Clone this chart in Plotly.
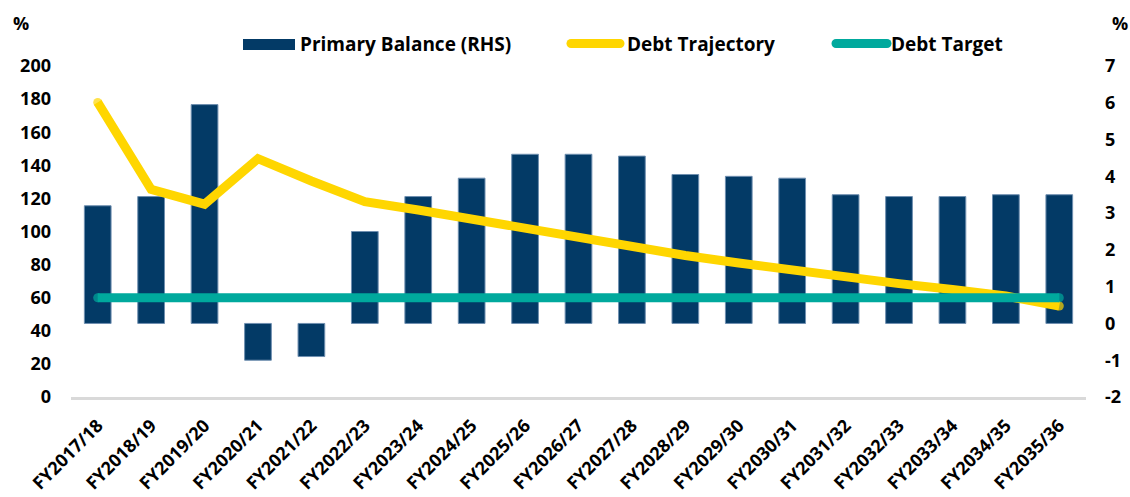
import plotly.graph_objects as go

# Fiscal years shown on the category axis
fiscal_years = [
    "FY2017/18", "FY2018/19", "FY2019/20", "FY2020/21", "FY2021/22",
    "FY2022/23", "FY2023/24", "FY2024/25", "FY2025/26", "FY2026/27",
    "FY2027/28", "FY2028/29", "FY2029/30", "FY2030/31", "FY2031/32",
    "FY2032/33", "FY2033/34", "FY2034/35", "FY2035/36",
]

# Primary balance, % (right-hand scale)
primary_balance = [
    3.2, 3.45, 5.95, -1.0, -0.9,
    2.5, 3.45, 3.95, 4.6, 4.6,
    4.55, 4.05, 4.0, 3.95, 3.5,
    3.45, 3.45, 3.5, 3.5,
]

# Debt trajectory, % (left-hand scale)
debt_trajectory = [
    178, 125.5, 116.5, 144, 130.5,
    118, 113, 107.5, 101.5, 97,
    91, 85.5, 81, 76.5, 72.5,
    68.5, 65, 61, 55,
]

# Debt target, % (left-hand scale)
debt_target = [60] * len(fiscal_years)

# Right-hand axis ticks (plain hyphen for negatives)
rhs_ticks = [-2, -1, 0, 1, 2, 3, 4, 5, 6, 7]
rhs_tick_text = ["-2", "-1", "0", "1", "2", "3", "4", "5", "6", "7"]

NAVY = "#033a66"
GOLD = "#ffd600"
TEAL = "#00a99d"
FONT = dict(family="Open Sans, Arial, sans-serif", size=18, color="#000000", weight="bold")
FONT_L = dict(FONT, size=19)

W, H = 1130, 497
L, R, T, B = 71, 44, 66, 100


def px_x(px):
    return (px - L) / (W - L - R)


def px_y(py):
    return (H - B - py) / (H - T - B)


def end_caps(n, size):
    sizes = [0] * n
    sizes[0] = size
    sizes[-1] = size
    return sizes


fig = go.Figure()

fig.add_trace(go.Bar(
    x=fiscal_years, y=primary_balance, name="Primary Balance (RHS)",
    marker=dict(color=NAVY, line=dict(color="#6f8fb0", width=1)),
    yaxis="y", showlegend=False,
))

fig.add_trace(go.Scatter(
    x=fiscal_years, y=debt_trajectory, name="Debt Trajectory",
    mode="lines+markers", line=dict(color=GOLD, width=9),
    marker=dict(color=GOLD, size=end_caps(len(fiscal_years), 9), line=dict(width=0)),
    yaxis="y2", showlegend=False,
))

fig.add_trace(go.Scatter(
    x=fiscal_years, y=debt_target, name="Debt Target",
    mode="lines+markers", line=dict(color=TEAL, width=9),
    marker=dict(color=TEAL, size=end_caps(len(fiscal_years), 9), line=dict(width=0)),
    yaxis="y2", showlegend=False,
))

# Legend drawn as swatches + labels along the top
shapes = [
    dict(type="rect", xref="paper", yref="paper",
         x0=px_x(243), x1=px_x(295), y0=px_y(50), y1=px_y(39),
         fillcolor=NAVY, line=dict(width=0)),
    dict(type="line", xref="paper", yref="paper",
         x0=px_x(571), x1=px_x(620), y0=px_y(43.5), y1=px_y(43.5),
         line=dict(color=GOLD, width=9)),
    dict(type="line", xref="paper", yref="paper",
         x0=px_x(836), x1=px_x(887), y0=px_y(43.5), y1=px_y(43.5),
         line=dict(color=TEAL, width=9)),
]
for x0 in (571, 620, 836, 887):
    col = GOLD if x0 < 700 else TEAL
    shapes.append(dict(type="circle", xref="paper", yref="paper",
                       x0=px_x(x0 - 4.5), x1=px_x(x0 + 4.5),
                       y0=px_y(48), y1=px_y(39),
                       fillcolor=col, line=dict(width=0)))

annotations = [
    dict(text="Primary Balance (RHS)", x=px_x(298), y=px_y(43.5)),
    dict(text="Debt Trajectory", x=px_x(625), y=px_y(43.5)),
    dict(text="Debt Target", x=px_x(889), y=px_y(43.5)),
]
annotations = [dict(a, xref="paper", yref="paper", xanchor="left", yanchor="middle",
                    showarrow=False, font=FONT_L) for a in annotations]
annotations += [
    dict(text="%", x=px_x(11), y=px_y(23), xref="paper", yref="paper",
         xanchor="left", yanchor="middle", showarrow=False, font=FONT),
    dict(text="%", x=px_x(1110), y=px_y(23), xref="paper", yref="paper",
         xanchor="left", yanchor="middle", showarrow=False, font=FONT),
]

fig.update_layout(
    width=W, height=H,
    margin=dict(l=L, r=R, t=T, b=B, autoexpand=False),
    paper_bgcolor="white", plot_bgcolor="white",
    font=FONT,
    bargap=0.5,
    shapes=shapes,
    annotations=annotations,
    xaxis=dict(
        type="category", range=[-0.5, len(fiscal_years) - 0.5],
        showline=True, linecolor="#d9d9d9", linewidth=3,
        showgrid=False, tickangle=-45, ticks="outside", ticklen=8,
        tickcolor="rgba(0,0,0,0)", tickfont=FONT, automargin=False,
    ),
    yaxis=dict(
        side="right", range=[-2, 7],
        tickmode="array", tickvals=rhs_ticks, ticktext=rhs_tick_text,
        showgrid=False, zeroline=False, showline=False,
        ticklabelstandoff=18, tickfont=FONT, automargin=False,
    ),
    yaxis2=dict(
        overlaying="y", side="left", range=[0, 200], dtick=20,
        showgrid=False, zeroline=False, showline=False,
        ticklabelstandoff=19, tickfont=FONT, automargin=False,
    ),
)

fig.write_html("out.html")
